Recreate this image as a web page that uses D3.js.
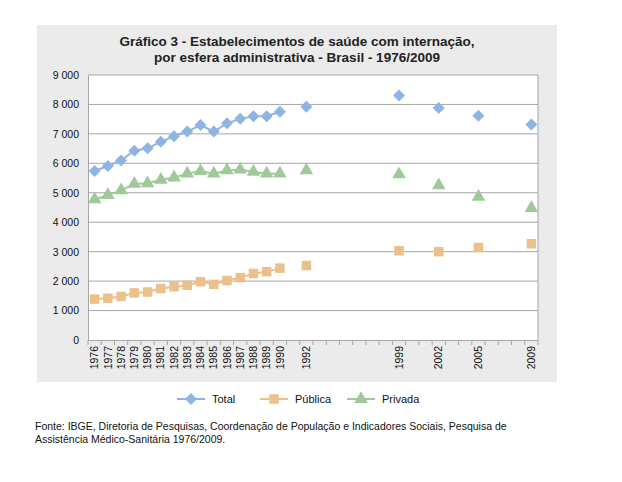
<!DOCTYPE html>
<html><head><meta charset="utf-8">
<script src="https://cdn.jsdelivr.net/npm/d3@7"></script>
<style>body{margin:0;background:#fff;} svg{display:block;font-family:"Liberation Sans",Arial,sans-serif;}</style>
</head><body>
<script>
const years = d3.range(1976, 2010);
const dataYears = [1976,1977,1978,1979,1980,1981,1982,1983,1984,1985,1986,1987,1988,1989,1990,1992,1999,2002,2005,2009];
const total   = [5740,5910,6100,6430,6510,6730,6920,7080,7300,7080,7360,7510,7600,7600,7750,7920,8300,7880,7620,7320];
const publica = [1390,1420,1480,1600,1630,1750,1810,1860,1980,1890,2020,2120,2260,2320,2440,2530,3030,3000,3140,3270];
const privada = [4780,4920,5080,5300,5320,5440,5520,5650,5740,5650,5760,5790,5710,5650,5650,5760,5630,5250,4860,4480];
const yTicks = [0,1000,2000,3000,4000,5000,6000,7000,8000,9000];
const seriesNames = ["Total","Pública","Privada"];
const colors = ["#8eb4e3","#ebc08a","#a0c99a"];

const diamond={draw(ctx,size){const r=Math.sqrt(size/2);ctx.moveTo(0,-r);ctx.lineTo(r,0);ctx.lineTo(0,r);ctx.lineTo(-r,0);ctx.closePath();}};
const symbols = [diamond, d3.symbolSquare, d3.symbolTriangle];
const sizes = [72,90,80];

const W=622,H=482;
const svg=d3.select("body").append("svg").attr("width",W).attr("height",H);
svg.append("rect").attr("x",37).attr("y",25).attr("width",520).attr("height",357).attr("fill","#ebebeb");

const x=d3.scaleBand().domain(years).range([88,538]).padding(0);
const y=d3.scaleLinear().domain([0,9000]).range([340,75]);

svg.append("rect").attr("x",88).attr("y",75).attr("width",450).attr("height",265).attr("fill","#fff");

svg.append("g").selectAll("line").data(yTicks.filter(d=>d>0)).join("line")
  .attr("x1",88).attr("x2",538).attr("y1",d=>y(d)).attr("y2",d=>y(d))
  .attr("stroke","#a6a6a6").attr("stroke-width",1);
svg.append("line").attr("x1",538).attr("x2",538).attr("y1",75).attr("y2",340).attr("stroke","#a6a6a6");

const yAx=svg.append("g").attr("transform","translate(88,0)")
  .call(d3.axisLeft(y).tickValues(yTicks).tickSize(0).tickPadding(9).tickFormat(d=>d3.format(",")(d).replace(/,/g," ")));
yAx.select(".domain").attr("stroke","#a6a6a6");
yAx.selectAll("text").attr("font-size",10.5).attr("fill","#111").attr("font-family","Liberation Sans,Arial,sans-serif");

svg.append("line").attr("x1",88).attr("x2",538).attr("y1",340.5).attr("y2",340.5).attr("stroke","#a6a6a6");
const bounds=years.map(d=>x(d)).concat([538]);
svg.append("g").selectAll("line").data(bounds).join("line")
  .attr("x1",d=>d).attr("x2",d=>d).attr("y1",340).attr("y2",345).attr("stroke","#a6a6a6");
svg.append("g").selectAll("text").data(dataYears).join("text")
  .attr("transform",d=>`translate(${x(d)+x.bandwidth()/2},346) rotate(-90)`)
  .attr("text-anchor","end").attr("dy","0.35em").attr("font-size",10.5).attr("fill","#111").text(d=>d);

const allSeries=[total,publica,privada];
allSeries.forEach((vals,i)=>{
  const pts=years.map(yr=>{const k=dataYears.indexOf(yr);return {yr,v:k>=0?vals[k]:null};});
  const line=d3.line().defined(d=>d.v!==null).x(d=>x(d.yr)+x.bandwidth()/2).y(d=>y(d.v));
  svg.append("path").datum(pts).attr("d",line).attr("fill","none").attr("stroke",colors[i]).attr("stroke-width",2);
  svg.append("g").selectAll("path").data(dataYears.map((yr,k)=>({yr,v:vals[k]}))).join("path")
    .attr("transform",d=>`translate(${x(d.yr)+x.bandwidth()/2},${y(d.v)})`)
    .attr("d",d3.symbol().type(symbols[i]).size(sizes[i])).attr("fill",colors[i]);
});

const t=svg.append("text").attr("text-anchor","middle").attr("font-weight","bold").attr("font-size",13.5).attr("fill","#222");
t.append("tspan").attr("x",297).attr("y",46).text("Gráfico 3 - Estabelecimentos de saúde com internação,");
t.append("tspan").attr("x",297).attr("y",62).text("por esfera administrativa - Brasil - 1976/2009");

const lx=[177,260,347];
seriesNames.forEach((n,i)=>{
  const g=svg.append("g").attr("transform",`translate(${lx[i]},399)`);
  g.append("line").attr("x1",0).attr("x2",28).attr("stroke",colors[i]).attr("stroke-width",2);
  g.append("path").attr("transform","translate(14,0)").attr("d",d3.symbol().type(symbols[i]).size(sizes[i])).attr("fill",colors[i]);
  g.append("text").attr("x",35).attr("y",4).attr("font-size",11).attr("fill","#111").text(n);
});

const f=svg.append("text").attr("font-size",10.5).attr("fill","#111");
f.append("tspan").attr("x",35).attr("y",430).text("Fonte: IBGE, Diretoria de Pesquisas, Coordenação de População e Indicadores Sociais, Pesquisa de");
f.append("tspan").attr("x",35).attr("y",443).text("Assistência Médico-Sanitária 1976/2009.");
</script>
</body></html>
